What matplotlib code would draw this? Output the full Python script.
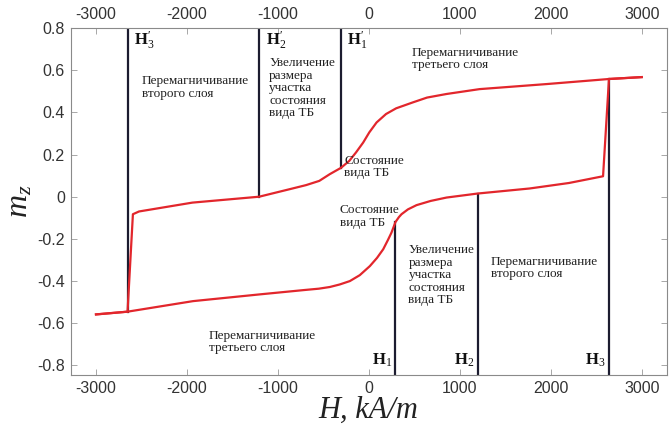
import matplotlib
matplotlib.use("Agg")
import matplotlib.pyplot as plt

plt.rcParams['mathtext.fontset'] = 'custom'
plt.rcParams['mathtext.rm'] = 'Liberation Serif'
plt.rcParams['mathtext.it'] = 'Liberation Serif:italic'
plt.rcParams['mathtext.bf'] = 'Liberation Serif:bold'
plt.rcParams['axes.unicode_minus'] = False

# increasing field branch (lower)
h_inc = [-3000, -2653, -1933, -1199, -700, -550, -429, -320, -209, -100, 11, 90, 158, 210, 249, 293,
         330, 359, 430, 524, 680, 854, 1195, 1768, 2200, 2575, 2640, 3000]
m_inc = [-0.558, -0.545, -0.495, -0.463, -0.442, -0.436, -0.428, -0.416, -0.400, -0.372, -0.329, -0.290,
         -0.249, -0.205, -0.170, -0.120, -0.097, -0.083, -0.060, -0.040, -0.020, -0.004, 0.015, 0.039,
         0.065, 0.097, 0.558, 0.567]

# decreasing field branch (upper)
h_dec = [3000, 2640, 1955, 1217, 855, 640, 483, 300, 189, 85, 5, -62, -141, -215, -306, -429, -545,
         -690, -839, -1206, -1940, -2527, -2594, -2653, -3000]
m_dec = [0.567, 0.558, 0.534, 0.510, 0.487, 0.470, 0.447, 0.419, 0.392, 0.352, 0.305, 0.257, 0.210,
         0.170, 0.137, 0.107, 0.075, 0.055, 0.039, 0.000, -0.028, -0.070, -0.083, -0.545, -0.558]

# critical fields: H1', H2', H3' (top) and H1, H2, H3 (bottom)
h_top = [-306, -1206, -2653]
m_top = [0.137, 0.000, -0.545]
top_names = [r"$\mathbf{H}_{1}^{\prime}$", r"$\mathbf{H}_{2}^{\prime}$", r"$\mathbf{H}_{3}^{\prime}$"]
h_bot = [293, 1195, 2640]
m_bot = [-0.120, 0.015, 0.558]
bot_names = [r"$\mathbf{H}_{1}$", r"$\mathbf{H}_{2}$", r"$\mathbf{H}_{3}$"]

xticks = [-3000, -2000, -1000, 0, 1000, 2000, 3000]
yticks = [-0.8, -0.6, -0.4, -0.2, 0, 0.2, 0.4, 0.6, 0.8]
ytick_labels = ['-0.8', '-0.6', '-0.4', '-0.2', '0', '0.2', '0.4', '0.6', '0.8']

fig = plt.figure(figsize=(6.69, 4.30), dpi=100)
ax = fig.add_axes([0.1054, 0.128, 0.8912, 0.807])

line_col = '#1c1c30'
for h, m in zip(h_top, m_top):
    ax.plot([h, h], [m, 0.8], color=line_col, lw=1.6, zorder=2)
for h, m in zip(h_bot, m_bot):
    ax.plot([h, h], [-0.845, m], color=line_col, lw=1.6, zorder=2)

ax.plot(h_inc, m_inc, color='#e2262c', lw=1.6, zorder=3)
ax.plot(h_dec, m_dec, color='#e2262c', lw=1.6, zorder=3)

ax.set_xlim(-3280, 3275)
ax.set_ylim(-0.845, 0.80)
ax.set_xticks(xticks)
ax.set_yticks(yticks)
ax.set_yticklabels(ytick_labels)
ax.tick_params(direction='in', length=4, width=0.6, color='#999999',
               top=True, right=True, labeltop=True,
               labelsize=11.5, labelcolor='#333333', pad=4)
for s in ax.spines.values():
    s.set_color('#8a8a8a')
    s.set_linewidth(0.8)
for lab in ax.get_xticklabels() + ax.get_yticklabels():
    lab.set_family('Liberation Sans')

ax.set_xlabel('H, kA/m', family='Liberation Serif', style='italic', fontsize=22, color='#222222', labelpad=0)
ax.set_ylabel(r'$m_z$', fontsize=23, color='#222222', labelpad=2)

tkw = dict(family='Liberation Serif', fontsize=9.5, color='#222222', va='top', linespacing=1.05)
ax.text(-2493, 0.575, 'Перемагничивание\nвторого слоя', **tkw)
ax.text(-1095, 0.66, 'Увеличение\nразмера\nучастка\nсостояния\nвида ТБ', **tkw)
ax.text(-270, 0.20, 'Состояние\nвида ТБ', **tkw)
ax.text(470, 0.71, 'Перемагничивание\nтретьего слоя', **tkw)
ax.text(336, -0.035, 'Состояние\nвида ТБ', ha='right', multialignment='left', **tkw)
ax.text(435, -0.225, 'Увеличение\nразмера\nучастка\nсостояния\nвида ТБ', **tkw)
ax.text(1338, -0.28, 'Перемагничивание\nвторого слоя', **tkw)
ax.text(-1757, -0.63, 'Перемагничивание\nтретьего слоя', **tkw)

for h, name in zip(h_top, top_names):
    ax.text(h + 70, 0.74, name, fontsize=12, color='#111111', va='center', ha='left')
for h, name in zip(h_bot, bot_names):
    ax.text(h - 40, -0.776, name, fontsize=12, color='#111111', va='center', ha='right')

fig.savefig('out.png', dpi=100)
